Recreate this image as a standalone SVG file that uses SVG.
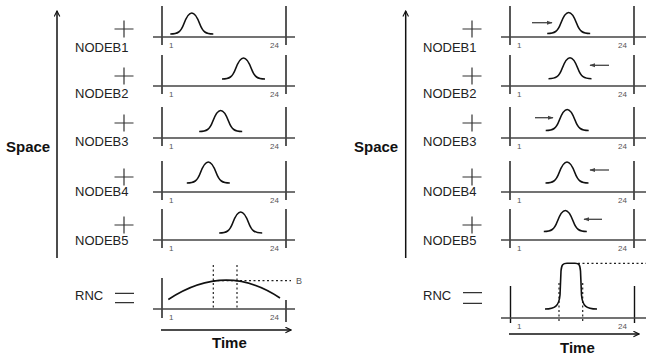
<svg xmlns="http://www.w3.org/2000/svg" width="646" height="356" viewBox="0 0 646 356">
<defs>
<style>
.lbl{font-family:"Liberation Sans",Arial,sans-serif;font-size:13px;fill:#222}
.big{font-family:"Liberation Sans",Arial,sans-serif;font-size:15px;font-weight:bold;fill:#111}
.tick{font-family:"Liberation Sans",Arial,sans-serif;font-size:8px;fill:#555}
.ax{stroke:#444;stroke-width:1.5;fill:none}
.vl{stroke:#111;stroke-width:1.4;fill:none}
.crv{stroke:#111;stroke-width:1.6;fill:none}
.sym{stroke:#333;stroke-width:1.2;fill:none}
.dot{stroke:#222;stroke-width:1.2;stroke-dasharray:2 2.5;fill:none}
.arr{stroke:#111;stroke-width:1.5;fill:none}
.mv{stroke:#444;stroke-width:1.3;fill:none}
</style>
<marker id="ah" viewBox="0 0 10 10" refX="9" refY="5" markerWidth="7" markerHeight="7" markerUnits="userSpaceOnUse" orient="auto">
<path d="M1,1 L9,5 L1,9" fill="none" stroke="#111" stroke-width="1.6"/>
</marker>
<marker id="am" viewBox="0 0 10 10" refX="9" refY="5" markerWidth="6" markerHeight="6" markerUnits="userSpaceOnUse" orient="auto">
<path d="M0,1.5 L10,5 L0,8.5 Z" fill="#444"/>
</marker>
<g id="bump">
<path class="crv" d="M-21.5,0 C-14,0 -11,-2 -8,-10 C-5,-18 -3,-21 0,-21 C3,-21 5,-18 8,-10 C11,-2 14,0 21.5,0"/>
</g>
<g id="frame">
<line class="vl" x1="0" y1="-31" x2="0" y2="8"/>
<line class="vl" x1="124" y1="-31" x2="124" y2="8"/>
<text class="tick" x="7" y="11">1</text>
<text class="tick" x="108" y="11">24</text>
</g>
<g id="plus"><path class="sym" d="M-9.5,0 H9.5 M0,-8.5 V8.5"/></g>
</defs>

<!-- LEFT PANEL -->
<g id="left-labels">
<text class="big" x="6" y="152">Space</text>
<text class="big" x="212" y="348">Time</text>
</g>
<g id="left-nodeb1"><use href="#plus" x="124" y="29"/><text class="lbl" x="75" y="52">NODEB1</text>
<use href="#frame" x="162" y="37"/><line class="ax" x1="153" y1="37" x2="295" y2="37"/><use href="#bump" x="191.8" y="34"/></g>
<g id="left-nodeb2"><use href="#plus" x="124" y="76"/><text class="lbl" x="75" y="98">NODEB2</text>
<use href="#frame" x="162" y="86"/><line class="ax" x1="153" y1="86" x2="295" y2="86"/><use href="#bump" x="243.5" y="79"/></g>
<g id="left-nodeb3"><use href="#plus" x="124" y="123"/><text class="lbl" x="75" y="146">NODEB3</text>
<use href="#frame" x="162" y="138"/><line class="ax" x1="153" y1="138" x2="295" y2="138"/><use href="#bump" x="220.7" y="131.5"/></g>
<g id="left-nodeb4"><use href="#plus" x="124" y="177"/><text class="lbl" x="75" y="196">NODEB4</text>
<use href="#frame" x="162" y="192"/><line class="ax" x1="153" y1="192" x2="295" y2="192"/><use href="#bump" x="208.3" y="183"/></g>
<g id="left-nodeb5"><use href="#plus" x="124" y="225"/><text class="lbl" x="75" y="245">NODEB5</text>
<use href="#frame" x="162" y="240"/><line class="ax" x1="153" y1="240" x2="295" y2="240"/><use href="#bump" x="240.7" y="233"/></g>
<g id="left-rnc">
<text class="lbl" x="75" y="300">RNC</text>
<path class="sym" d="M115,293.3 H134 M115,302.7 H134"/>
<line class="vl" x1="162" y1="278" x2="162" y2="318"/>
<line class="vl" x1="286" y1="300" x2="286" y2="322"/>
<line class="ax" x1="153" y1="309" x2="295" y2="309"/>
<text class="tick" x="169" y="320">1</text>
<text class="tick" x="270" y="320">24</text>
<path class="dot" d="M213.3,265 V309 M237,265 V309 M213,280.7 H291"/>
<path class="crv" d="M168.3,299.5 Q226,261.6 280,298"/>
<text class="tick" x="296" y="284" style="font-size:9px">B</text>
</g>

<!-- RIGHT PANEL -->
<g id="right-labels">
<text class="big" x="354" y="152">Space</text>
<text class="big" x="560" y="352.5">Time</text>
</g>
<g id="right-nodeb1"><use href="#plus" x="472" y="29"/><text class="lbl" x="423" y="52">NODEB1</text>
<use href="#frame" x="510" y="37"/><line class="ax" x1="501" y1="37" x2="646" y2="37"/><use href="#bump" x="568.7" y="33.5"/></g>
<g id="right-nodeb2"><use href="#plus" x="472" y="76"/><text class="lbl" x="423" y="98">NODEB2</text>
<use href="#frame" x="510" y="86"/><line class="ax" x1="501" y1="86" x2="646" y2="86"/><use href="#bump" x="570" y="78.7"/></g>
<g id="right-nodeb3"><use href="#plus" x="472" y="123"/><text class="lbl" x="423" y="146">NODEB3</text>
<use href="#frame" x="510" y="138"/><line class="ax" x1="501" y1="138" x2="646" y2="138"/><use href="#bump" x="567.2" y="130.5"/></g>
<g id="right-nodeb4"><use href="#plus" x="472" y="177"/><text class="lbl" x="423" y="196">NODEB4</text>
<use href="#frame" x="510" y="192"/><line class="ax" x1="501" y1="192" x2="646" y2="192"/><use href="#bump" x="567" y="183"/></g>
<g id="right-nodeb5"><use href="#plus" x="472" y="225"/><text class="lbl" x="423" y="245">NODEB5</text>
<use href="#frame" x="510" y="240"/><line class="ax" x1="501" y1="240" x2="646" y2="240"/><use href="#bump" x="565.3" y="231.5"/></g>
<g id="right-rnc">
<text class="lbl" x="423" y="300">RNC</text>
<path class="sym" d="M463,292.7 H482 M463,303.3 H482"/>
<line class="vl" x1="510.5" y1="286" x2="510.5" y2="323"/>
<line class="vl" x1="634.5" y1="286" x2="634.5" y2="323"/>
<line class="ax" x1="501" y1="318" x2="646" y2="318"/>
<text class="tick" x="517" y="329">1</text>
<text class="tick" x="618" y="329">24</text>
<path class="dot" d="M559,283 V323 M582.7,283 V323 M578,263.3 H646"/>
<path class="crv" d="M545,309 C555,309 559,306 560,295 L561,271 C561.5,264.5 563,263.3 567,263.3 L575,263.3 C579,263.3 580,264.5 580.5,271 L581.5,295 C582.5,306 586,309 597,309"/>
</g>

<g id="connectors">
<line class="arr" x1="57" y1="258" x2="57" y2="11" marker-end="url(#ah)"/>
<line class="arr" x1="161" y1="330" x2="291" y2="330" marker-end="url(#ah)"/>
<line class="arr" x1="405.7" y1="258" x2="405.7" y2="11" marker-end="url(#ah)"/>
<line class="arr" x1="509" y1="334" x2="639" y2="334" marker-end="url(#ah)"/>
<line class="mv" x1="532" y1="22.7" x2="552" y2="22.7" marker-end="url(#am)"/>
<line class="mv" x1="609" y1="65.3" x2="590" y2="65.3" marker-end="url(#am)"/>
<line class="mv" x1="535" y1="117.7" x2="553" y2="117.7" marker-end="url(#am)"/>
<line class="mv" x1="609" y1="170" x2="590" y2="170" marker-end="url(#am)"/>
<line class="mv" x1="602" y1="219.3" x2="584" y2="219.3" marker-end="url(#am)"/>
</g>
</svg>
